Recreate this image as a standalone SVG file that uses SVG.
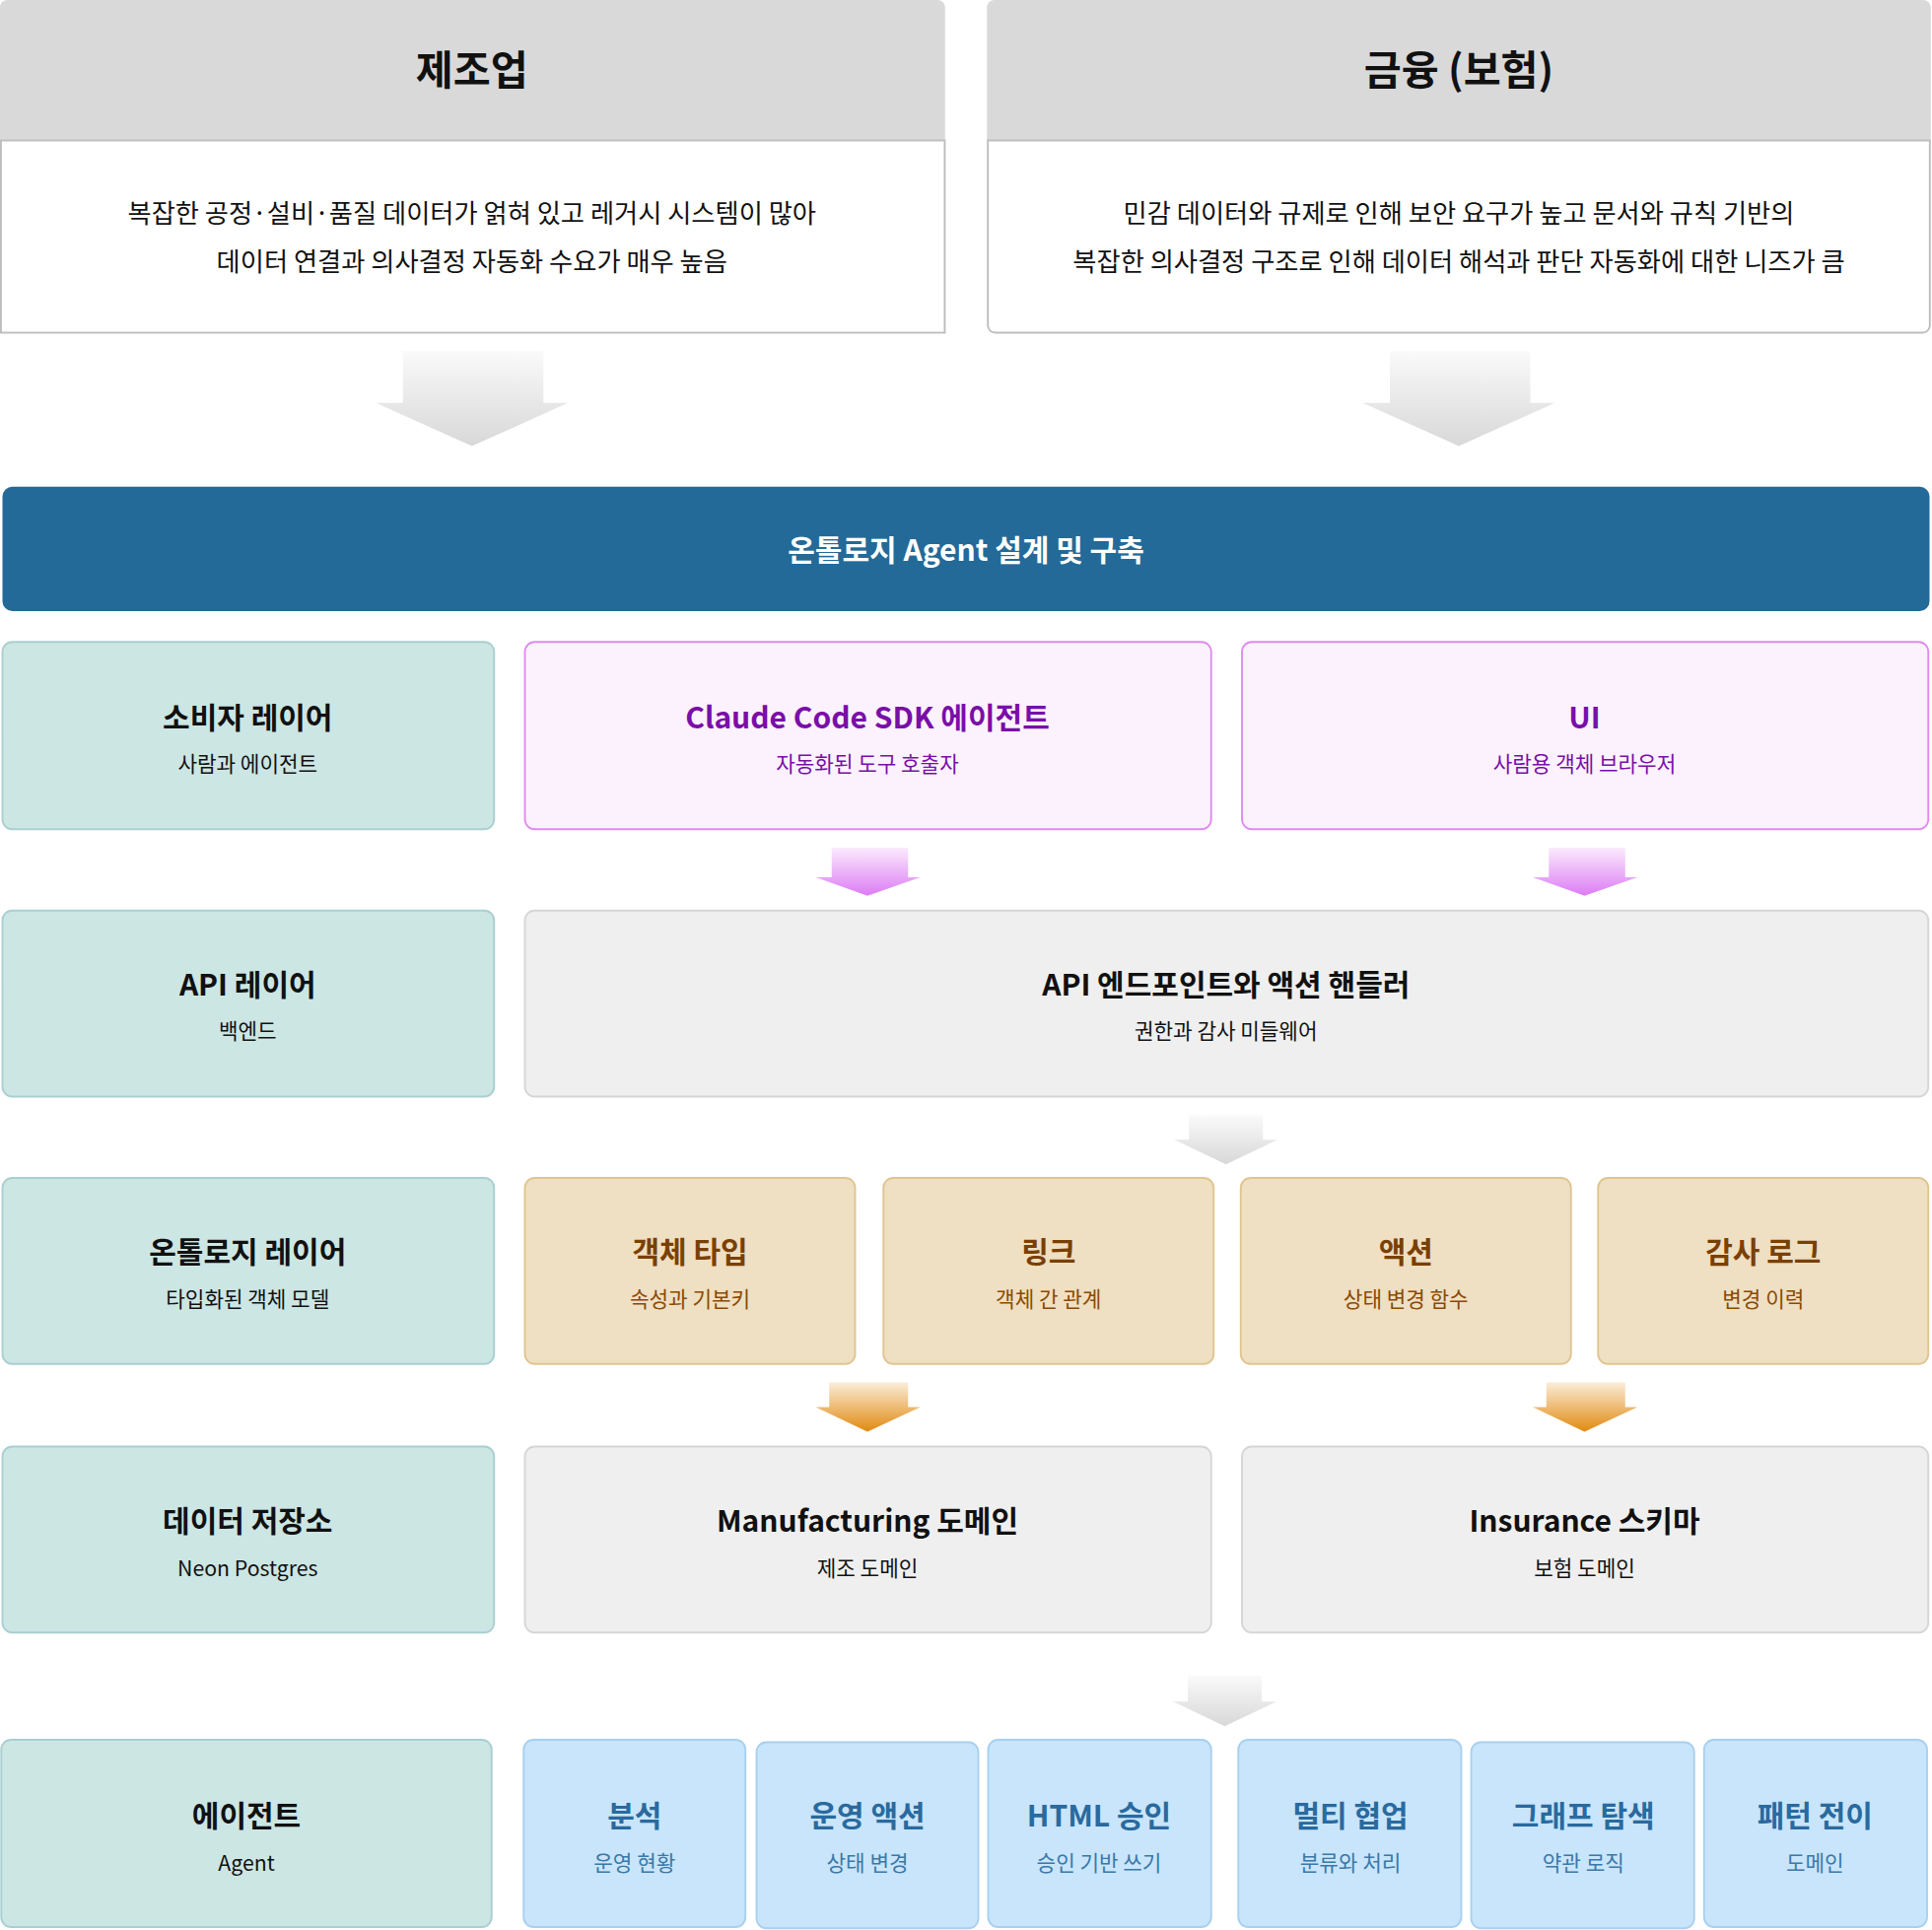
<svg xmlns="http://www.w3.org/2000/svg" width="1960" height="1958" viewBox="0 0 1960 1958">
<style>
text{font-family:"Noto Sans CJK KR","Noto Sans",sans-serif;text-anchor:middle}
.t{font-size:24px;font-weight:700}
.s{font-size:17px}
.teal rect{fill:#cce6e4;stroke:#a9cfd1;stroke-width:1.5}
.teal text{fill:#111}
.pur rect{fill:#fbf2fd;stroke:#e08af0;stroke-width:1.5}
.pur text{fill:#7a0ea8}
.gry rect{fill:#efefef;stroke:#d6d6d6;stroke-width:1.5}
.gry text{fill:#111}
.tan rect{fill:#efdfc3;stroke:#e0c590;stroke-width:1.5}
.tan .t{fill:#7a4000}.tan .s{fill:#8a4a00}
.blu rect{fill:#c8e5fb;stroke:#a8d0ef;stroke-width:1.5}
.blu .t{fill:#2a6a9e}.blu .s{fill:#3a78a8}
</style>
<defs>
<linearGradient id="gg" x1="0" y1="0" x2="0" y2="1"><stop offset="0" stop-color="#fafafa"/><stop offset="1" stop-color="#d8d8d8"/></linearGradient>
<linearGradient id="gp" x1="0" y1="0" x2="0" y2="1"><stop offset="0" stop-color="#fbeafd"/><stop offset="1" stop-color="#dc7cf4"/></linearGradient>
<linearGradient id="go" x1="0" y1="0" x2="0" y2="1"><stop offset="0" stop-color="#fbecd8"/><stop offset="1" stop-color="#e08a10"/></linearGradient>
</defs>
<g transform="scale(1.25)">
<g id="mfg">
<path d="M0,6 a6,6 0 0 1 6,-6 H761 a6,6 0 0 1 6,6 V114 H0Z" fill="#d9d9d9"/>
<rect x="0.75" y="114" width="766" height="156" fill="#fff" stroke="#bdbdbd" stroke-width="1.5"/>
<text x="383" y="69" style="font-size:33px;font-weight:700" fill="#111">제조업</text>
<text x="383" y="181" style="font-size:21px" fill="#111">복잡한 공정·설비·품질 데이터가 얽혀 있고 레거시 시스템이 많아</text>
<text x="383" y="220" style="font-size:21px" fill="#111">데이터 연결과 의사결정 자동화 수요가 매우 높음</text>
</g>
<g id="fin">
<path d="M801,6 a6,6 0 0 1 6,-6 H1561 a6,6 0 0 1 6,6 V114 H801Z" fill="#d9d9d9"/>
<path d="M801.75,114 H1566.25 V264 a6,6 0 0 1 -6,6 H807.75 a6,6 0 0 1 -6,-6Z" fill="#fff" stroke="#bdbdbd" stroke-width="1.5"/>
<text x="1184" y="69" style="font-size:33px;font-weight:700" fill="#111">금융 (보험)</text>
<text x="1184" y="181" style="font-size:21px" fill="#111">민감 데이터와 규제로 인해 보안 요구가 높고 문서와 규칙 기반의</text>
<text x="1184" y="220" style="font-size:21px" fill="#111">복잡한 의사결정 구조로 인해 데이터 해석과 판단 자동화에 대한 니즈가 큼</text>
</g>
<g id="connectors">
<path d="M327,285H441V327H461L383,362L305,327H327Z" fill="url(#gg)"/>
<path d="M1128,285H1242V327H1262L1184,362L1106,327H1128Z" fill="url(#gg)"/>
<path d="M675,688H737V712H747L704,727L662,712H675Z" fill="url(#gp)"/>
<path d="M1257,688H1319V712H1329L1286,727L1244,712H1257Z" fill="url(#gp)"/>
<path d="M965,905H1025V925H1037L995,945L953,925H965Z" fill="url(#gg)"/>
<path d="M673,1122H737V1142H747L704,1162L662,1142H673Z" fill="url(#go)"/>
<path d="M1255,1122H1319V1142H1329L1286,1162L1244,1142H1255Z" fill="url(#go)"/>
<path d="M964,1360H1024V1381H1036L994,1401L952,1381H964Z" fill="url(#gg)"/>
</g>
<g id="banner">
<rect x="2" y="395" width="1564" height="101" rx="8" fill="#236a98"/>
<text x="784" y="455" style="font-size:24px;font-weight:700" fill="#fff">온톨로지 Agent 설계 및 구축</text>
</g>
<g id="consumer" class="teal"><rect x="2" y="521" width="399" height="152" rx="8"/><text class="t" x="201" y="591">소비자 레이어</text><text class="s" x="201" y="626">사람과 에이전트</text></g>
<g id="claude" class="pur"><rect x="426" y="521" width="557" height="152" rx="8"/><text class="t" x="704" y="591">Claude Code SDK 에이전트</text><text class="s" x="704" y="626">자동화된 도구 호출자</text></g>
<g id="ui" class="pur"><rect x="1008" y="521" width="557" height="152" rx="8"/><text class="t" x="1286" y="591">UI</text><text class="s" x="1286" y="626">사람용 객체 브라우저</text></g>
<g id="apilayer" class="teal"><rect x="2" y="739" width="399" height="151" rx="8"/><text class="t" x="201" y="808">API 레이어</text><text class="s" x="201" y="843">백엔드</text></g>
<g id="api" class="gry"><rect x="426" y="739" width="1139" height="151" rx="8"/><text class="t" x="995" y="808">API 엔드포인트와 액션 핸들러</text><text class="s" x="995" y="843">권한과 감사 미들웨어</text></g>
<g id="ontology" class="teal"><rect x="2" y="956" width="399" height="151" rx="8"/><text class="t" x="201" y="1025">온톨로지 레이어</text><text class="s" x="201" y="1061">타입화된 객체 모델</text></g>
<g id="objtype" class="tan"><rect x="426" y="956" width="268" height="151" rx="8"/><text class="t" x="560" y="1025">객체 타입</text><text class="s" x="560" y="1061">속성과 기본키</text></g>
<g id="link" class="tan"><rect x="717" y="956" width="268" height="151" rx="8"/><text class="t" x="851" y="1025">링크</text><text class="s" x="851" y="1061">객체 간 관계</text></g>
<g id="action" class="tan"><rect x="1007" y="956" width="268" height="151" rx="8"/><text class="t" x="1141" y="1025">액션</text><text class="s" x="1141" y="1061">상태 변경 함수</text></g>
<g id="audit" class="tan"><rect x="1297" y="956" width="268" height="151" rx="8"/><text class="t" x="1431" y="1025">감사 로그</text><text class="s" x="1431" y="1061">변경 이력</text></g>
<g id="store" class="teal"><rect x="2" y="1174" width="399" height="151" rx="8"/><text class="t" x="201" y="1243">데이터 저장소</text><text class="s" x="201" y="1279">Neon Postgres</text></g>
<g id="mfgdomain" class="gry"><rect x="426" y="1174" width="557" height="151" rx="8"/><text class="t" x="704" y="1243">Manufacturing 도메인</text><text class="s" x="704" y="1279">제조 도메인</text></g>
<g id="insurance" class="gry"><rect x="1008" y="1174" width="557" height="151" rx="8"/><text class="t" x="1286" y="1243">Insurance 스키마</text><text class="s" x="1286" y="1279">보험 도메인</text></g>
<g id="agent" class="teal"><rect x="1" y="1412" width="398" height="152" rx="8"/><text class="t" x="200" y="1482">에이전트</text><text class="s" x="200" y="1518">Agent</text></g>
<g id="b1" class="blu"><rect x="425" y="1412" width="180" height="152" rx="8"/><text class="t" x="515" y="1482">분석</text><text class="s" x="515" y="1518">운영 현황</text></g>
<g id="b2" class="blu"><rect x="614" y="1414" width="180" height="151" rx="8"/><text class="t" x="704" y="1482">운영 액션</text><text class="s" x="704" y="1518">상태 변경</text></g>
<g id="b3" class="blu"><rect x="802" y="1412" width="181" height="152" rx="8"/><text class="t" x="892" y="1482">HTML 승인</text><text class="s" x="892" y="1518">승인 기반 쓰기</text></g>
<g id="b4" class="blu"><rect x="1005" y="1412" width="181" height="152" rx="8"/><text class="t" x="1096" y="1482">멀티 협업</text><text class="s" x="1096" y="1518">분류와 처리</text></g>
<g id="b5" class="blu"><rect x="1194" y="1414" width="181" height="151" rx="8"/><text class="t" x="1285" y="1482">그래프 탐색</text><text class="s" x="1285" y="1518">약관 로직</text></g>
<g id="b6" class="blu"><rect x="1383" y="1412" width="181" height="152" rx="8"/><text class="t" x="1473" y="1482">패턴 전이</text><text class="s" x="1473" y="1518">도메인</text></g>
</g>
</svg>
